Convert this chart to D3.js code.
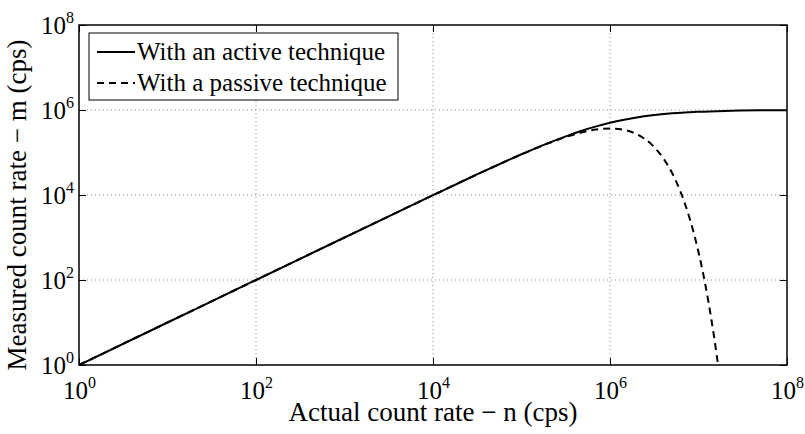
<!doctype html>
<html>
  <head>
    <meta charset="utf-8" />
    <title>Count rate</title>
    <style>
      body { margin: 0; background: #fff; }
      svg { display: block; }
      text { font-family: "Liberation Serif", "Times New Roman", serif; fill: #000; }
    </style>
  </head>
  <body>
    <svg id="chart" width="805" height="434"></svg>
    <script src="https://d3js.org/d3.v7.min.js"></script>
    <script>
      // actual count rate n (cps) and measured rate m (cps)
      const activeN = [1, 10, 100, 1e3, 1e4, 3e4, 1e5, 2e5, 3e5, 5e5, 7e5, 1e6, 1.5e6, 2e6, 3e6, 5e6, 7e6, 1e7, 2e7, 5e7, 1e8];
      const activeM = [1, 10, 99.99, 999, 9901, 29126, 90909, 166667, 230769, 333333, 411765, 500000, 600000, 666667, 750000, 833333, 875000, 909091, 952381, 980392, 990099];

      const passiveN = [1, 10, 100, 1e3, 1e4, 3e4, 1e5, 2e5, 3e5, 5e5, 7e5, 1e6, 1.5e6, 2e6, 3e6, 4e6, 5e6, 6e6, 7e6, 8e6, 9e6, 1e7, 1.1e7, 1.2e7, 1.3e7, 1.4e7, 1.5e7, 1.6e7, 1.66e7];
      const passiveM = [1, 10, 99.99, 999, 9900, 29113, 90484, 163746, 222245, 303265, 347610, 367879, 334695, 270671, 149361, 73263, 33690, 14873, 6383, 2684, 1111, 454, 184, 73.7, 29.4, 11.6, 4.59, 1.8, 1.03];

      const xTicks = [1, 1e2, 1e4, 1e6, 1e8];
      const yTicks = [1, 1e2, 1e4, 1e6, 1e8];
      const gridVals = [1e2, 1e4, 1e6];
      const legendLabels = ["With an active technique", "With a passive technique"];

      const W = 805, H = 434;
      const margin = { top: 25, right: 18, bottom: 69, left: 79 };
      const iw = W - margin.left - margin.right;
      const ih = H - margin.top - margin.bottom;
      const serif = '"Liberation Serif", "Times New Roman", serif';

      const svg = d3.select("#chart");
      const g = svg.append("g").attr("transform", `translate(${margin.left},${margin.top})`);

      const x = d3.scaleLog().domain([1, 1e8]).range([0, iw]);
      const y = d3.scaleLog().domain([1, 1e8]).range([ih, 0]);

      g.append("clipPath").attr("id", "clip")
        .append("rect").attr("width", iw).attr("height", ih);

      // dotted grid
      const grid = g.append("g").attr("stroke", "#888").attr("stroke-width", 1).attr("stroke-dasharray", "1,3");
      grid.selectAll(".gx").data(gridVals).enter().append("line")
        .attr("x1", d => x(d)).attr("x2", d => x(d)).attr("y1", 0).attr("y2", ih);
      grid.selectAll(".gy").data(gridVals).enter().append("line")
        .attr("y1", d => y(d)).attr("y2", d => y(d)).attr("x1", 0).attr("x2", iw);

      // axes with inward ticks on all four sides
      const tick = 7;
      const axB = g.append("g").attr("transform", `translate(0,${ih})`)
        .call(d3.axisBottom(x).tickValues(xTicks).tickSize(-tick).tickFormat(""));
      g.append("g").call(d3.axisTop(x).tickValues(xTicks).tickSize(-tick).tickFormat(""));
      const axL = g.append("g")
        .call(d3.axisLeft(y).tickValues(yTicks).tickSize(-tick).tickFormat(""));
      g.append("g").attr("transform", `translate(${iw},0)`)
        .call(d3.axisRight(y).tickValues(yTicks).tickSize(-tick).tickFormat(""));
      g.selectAll(".domain").remove();
      g.selectAll(".tick line").attr("stroke", "#000").attr("stroke-width", 1);

      function powLabel(sel, d) {
        const e = Math.round(Math.log10(d));
        sel.append("tspan").text("10");
        sel.append("tspan").attr("font-size", 16).attr("dy", -11).text(e);
      }

      axB.selectAll(".tick").each(function (d) {
        const t = d3.select(this).append("text")
          .attr("y", 34).attr("text-anchor", "middle")
          .attr("font-family", serif).attr("font-size", 25);
        powLabel(t, d);
      });
      axL.selectAll(".tick").each(function (d) {
        const t = d3.select(this).append("text")
          .attr("x", -5).attr("y", 8.5).attr("text-anchor", "end")
          .attr("font-family", serif).attr("font-size", 25);
        powLabel(t, d);
      });

      // curves
      const line = d3.line().x(d => x(d[0])).y(d => y(d[1])).curve(d3.curveMonotoneX);
      const curves = g.append("g").attr("clip-path", "url(#clip)").attr("fill", "none").attr("stroke", "#000").attr("stroke-width", 2);
      curves.append("path").attr("d", line(d3.zip(activeN, activeM)));
      curves.append("path").attr("stroke-dasharray", "7,5").attr("d", line(d3.zip(passiveN, passiveM)));

      // box
      g.append("rect").attr("width", iw).attr("height", ih)
        .attr("fill", "none").attr("stroke", "#000").attr("stroke-width", 1.5);

      // legend
      const lg = g.append("g").attr("transform", "translate(10,8)");
      lg.append("rect").attr("width", 309).attr("height", 67)
        .attr("fill", "#fff").attr("stroke", "#000").attr("stroke-width", 1);
      legendLabels.forEach((lab, i) => {
        const ly = 19 + i * 31;
        lg.append("line").attr("x1", 8).attr("x2", 46).attr("y1", ly).attr("y2", ly)
          .attr("stroke", "#000").attr("stroke-width", 2)
          .attr("stroke-dasharray", i === 1 ? "7,5" : null);
        lg.append("text").attr("x", 48).attr("y", ly + 8).attr("font-size", 25).text(lab);
      });

      // axis titles
      svg.append("text").attr("x", margin.left + iw / 2).attr("y", 421)
        .attr("text-anchor", "middle").attr("font-size", 27)
        .text("Actual count rate \u2212 n (cps)");
      svg.append("text").attr("transform", "translate(26,205) rotate(-90)")
        .attr("text-anchor", "middle").attr("font-size", 27)
        .text("Measured count rate \u2212 m (cps)");
    </script>
  </body>
</html>
